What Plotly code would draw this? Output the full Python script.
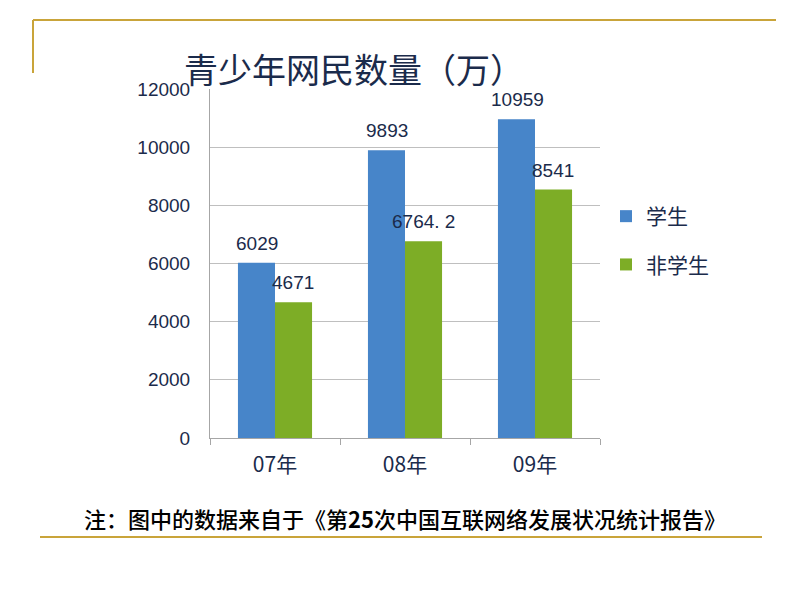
import plotly.graph_objects as go

categories = ["07年", "08年", "09年"]
students = [6029, 9893, 10959]
non_students = [4671, 6764.2, 8541]
student_labels = ["6029", "9893", "10959"]
non_student_labels = ["4671", "6764. 2", "8541"]
y_ticks = [0, 2000, 4000, 6000, 8000, 10000, 12000]

NAVY = "#1B2B4B"
BLUE = "#4785C9"
GREEN = "#7DAD26"
GOLD = "#C9A43A"
FONT = "Noto Sans CJK SC"

# page has an 8px body margin; figure coordinates = page pixels - 8
OFF = 8
W, H = 786, 588
L, T = 210 - OFF, 89 - OFF
pw, ph = 390, 349
R, B = W - L - pw, H - T - ph


def px(x):
    return (x - OFF - L) / pw


def py(y):
    return 1 - (y - OFF - T) / ph


fig = go.Figure()
fig.add_trace(go.Bar(name="学生", x=categories, y=students, marker_color=BLUE,
                     marker_line_width=0, legendgroup="a"))
fig.add_trace(go.Bar(name="非学生", x=categories, y=non_students, marker_color=GREEN,
                     marker_line_width=0, legendgroup="b"))

label_font = dict(size=19, color=NAVY, family="Liberation Sans")
annotations = []
for c, v, t in zip(categories, students, student_labels):
    annotations.append(dict(x=c, y=v, text=t, xref="x", yref="y", showarrow=False,
                            xshift=-18, yshift=7, yanchor="bottom", font=label_font))
for c, v, t in zip(categories, non_students, non_student_labels):
    annotations.append(dict(x=c, y=v, text=t, xref="x", yref="y", showarrow=False,
                            xshift=18, yshift=7, yanchor="bottom", font=label_font))

annotations.append(dict(x=px(182), y=py(69), xref="paper", yref="paper",
                        text="青少年网民数量（万）",
                        showarrow=False, xanchor="left", yanchor="middle",
                        font=dict(size=34, color=NAVY, family=FONT)))
annotations.append(dict(x=px(405), y=py(518), xref="paper", yref="paper",
                        text="注：图中的数据来自于《第<b>25</b>次中国互联网络发展状况统计报告》",
                        showarrow=False, xanchor="center", yanchor="middle",
                        font=dict(size=22, color="#000000", family=FONT, weight=500)))

shapes = [
    dict(type="line", xref="paper", yref="paper", x0=px(33), x1=px(776),
         y0=py(20), y1=py(20), line=dict(color=GOLD, width=2)),
    dict(type="line", xref="paper", yref="paper", x0=px(33), x1=px(33),
         y0=py(20), y1=py(73), line=dict(color=GOLD, width=2)),
    dict(type="line", xref="paper", yref="paper", x0=px(40), x1=px(762),
         y0=py(537), y1=py(537), line=dict(color=GOLD, width=2)),
]

fig.update_layout(
    width=W, height=H,
    margin=dict(l=L, r=R, t=T, b=B),
    paper_bgcolor="white", plot_bgcolor="white",
    barmode="group", bargap=0.43, bargroupgap=0,
    font=dict(family=FONT, color=NAVY),
    annotations=annotations, shapes=shapes,
    showlegend=True,
    legend=dict(x=px(606), y=py(196), xanchor="left", yanchor="top",
                font=dict(size=21, color=NAVY, family=FONT),
                tracegroupgap=18, itemwidth=30, bgcolor="rgba(0,0,0,0)"),
)
fig.update_yaxes(range=[0, 12000], tickvals=y_ticks, tickformat="d",
                 showgrid=True, gridcolor="#BFBFBF",
                 gridwidth=1, showline=True, linecolor="#A6A6A6", zeroline=False,
                 ticks="", ticklabelstandoff=15,
                 tickfont=dict(size=19, color=NAVY, family="Liberation Sans"))
fig.update_xaxes(showline=True, linecolor="#A6A6A6", ticks="outside", tickson="boundaries",
                 ticklen=6, tickcolor="#A6A6A6", ticklabelstandoff=8,
                 tickfont=dict(size=21, color=NAVY, family=FONT))

fig.write_html("out.html")
